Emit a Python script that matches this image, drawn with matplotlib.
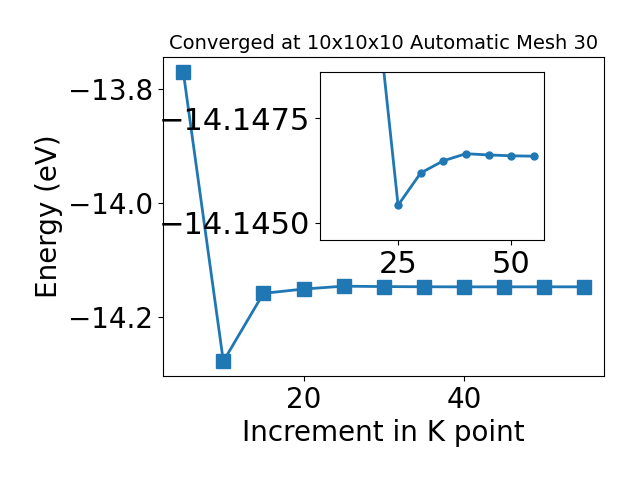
import matplotlib
matplotlib.use('Agg')
import matplotlib.pyplot as plt

kpoints = [5, 10, 15, 20, 25, 30, 35, 40, 45, 50, 55]
energy = [-13.770, -14.277, -14.158, -14.1505, -14.14542, -14.14619,
          -14.14648, -14.14665, -14.14662, -14.1466, -14.14659]

fig = plt.figure(figsize=(6.4, 4.8), dpi=100)
ax = fig.add_axes([0.255, 0.217, 0.689, 0.664])
ax.plot(kpoints, energy, marker='s', markersize=10, linewidth=2)
ax.set_xlabel('Increment in K point', fontsize=20)
ax.set_ylabel('Energy (eV)', fontsize=20)
ax.set_title('Converged at 10x10x10 Automatic Mesh 30', fontsize=14)
ax.tick_params(labelsize=20)

# inset zoom on the converged part
ins = fig.add_axes([0.5, 0.5, 0.35, 0.35])
ins.plot(kpoints[1:], energy[1:], marker='o', markersize=5, linewidth=2)
ins.set_ylim(-14.14459, -14.1486)
ins.set_xticks([25, 50])
ins.set_yticks([-14.1475, -14.1450])
ins.ticklabel_format(axis='y', useOffset=False)
ins.tick_params(labelsize=22)

fig.savefig('out.png')
